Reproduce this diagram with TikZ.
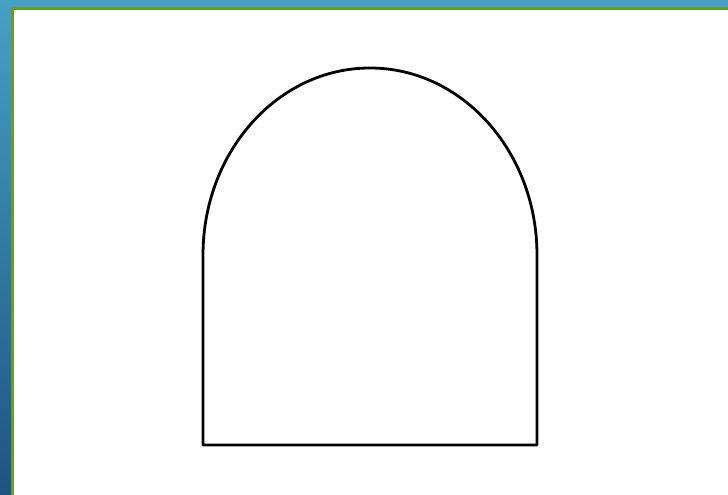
\documentclass[tikz,border=0pt]{standalone}
\usepackage{tikz}
\usetikzlibrary{backgrounds}
\definecolor{slidetop}{RGB}{70,160,196}
\definecolor{slidebot}{RGB}{30,84,128}
\definecolor{framegreen}{RGB}{106,154,52}

\begin{document}
\begin{tikzpicture}[x=1pt, y=1pt,
    outline/.style={black, line width=2.8pt, line join=round}]
        % --- Fond de la diapositive ---
        \useasboundingbox (0,0) rectangle (728,495);
        \shade[top color=slidetop, bottom color=slidebot]
            (0,0) rectangle (728,495);
        % Cadre vert et zone blanche
        \fill[framegreen] (11,0) rectangle (728,488);
        \fill[white] (14,0) rectangle (728,485);

        % --- Arche (demi-ellipse sur rectangle) ---
        \coordinate (basgauche) at (203,50);
        \coordinate (basdroit) at (537,50);
        \draw[outline]
            (basgauche) -- (203,240)
            arc[start angle=180, end angle=0, x radius=167pt, y radius=187pt]
            -- (basdroit) -- cycle;
    \end{tikzpicture}
\end{document}
